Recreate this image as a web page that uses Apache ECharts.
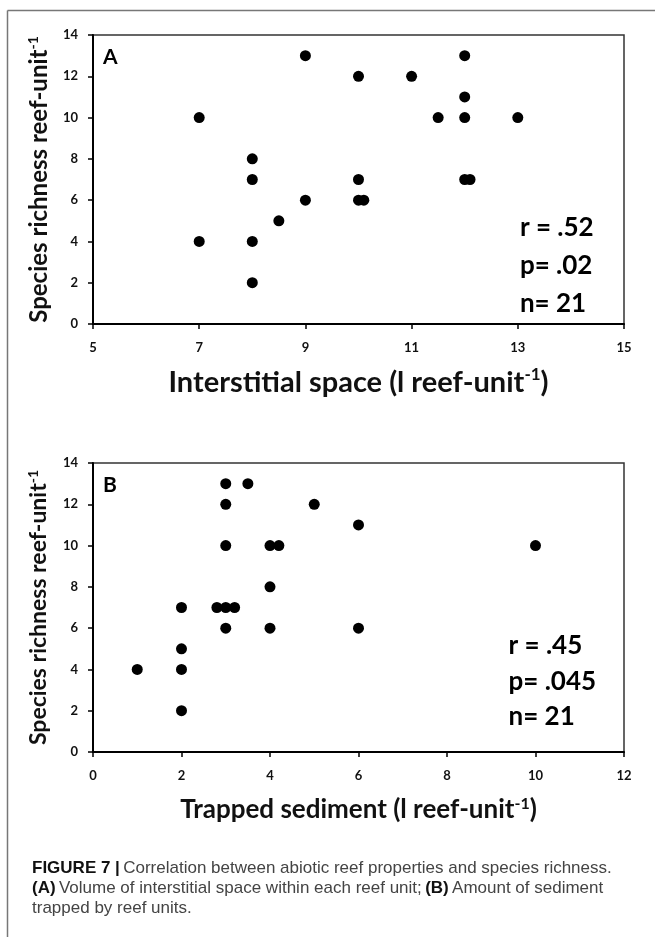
<!DOCTYPE html>
<html>
<head>
<meta charset="utf-8">
<script src="https://cdn.jsdelivr.net/npm/echarts@6/dist/echarts.min.js"></script>
<style>
html,body{margin:0;padding:0;background:#fff;}
#c{width:655px;height:937px;}
</style>
</head>
<body>
<div id="c"></div>
<script>
// Panel A: interstitial space vs species richness
const interstitialX = [7, 7, 8, 8, 8, 8, 8.5, 9, 9, 10, 10, 10, 10.1, 11, 11.5, 12, 12, 12, 12, 12.1, 13];
const richnessA     = [10, 4, 8, 7, 4, 2, 5, 6, 13, 12, 7, 6, 6, 12, 10, 13, 11, 10, 7, 7, 10];
// Panel B: trapped sediment vs species richness
const sedimentX  = [3, 3.5, 3, 5, 6, 3, 4, 4.2, 10, 4, 2, 2.8, 3, 3.2, 3, 4, 6, 2, 2, 1, 2];
const richnessB  = [13, 13, 12, 12, 11, 10, 10, 10, 10, 8, 7, 7, 7, 7, 6, 6, 6, 5, 4, 4, 2];

const xTicksA = [5, 7, 9, 11, 13, 15];
const xTicksB = [0, 2, 4, 6, 8, 10, 12];
const yTicks  = [0, 2, 4, 6, 8, 10, 12, 14];

const statsA = ['r = .52', 'p= .02', 'n= 21'];
const statsB = ['r = .45', 'p= .045', 'n= 21'];

const FONT = 'Lato, "Open Sans", sans-serif';

function xAxisCfg(idx, min, max, ticks, namePart, fs, gap) {
  return {
    type: 'value', gridIndex: idx, min: min, max: max,
    splitLine: {show: false},
    axisLine: {show: true, onZero: false, lineStyle: {color: '#000', width: 2}},
    axisTick: {show: true, length: 5, customValues: ticks, lineStyle: {color: '#000', width: 1.5}},
    axisLabel: {customValues: ticks, margin: 17, color: '#111', fontFamily: FONT, fontWeight: 'bold', fontSize: 13},
    name: '{t|' + namePart + '}{s|-1}{t|)}',
    nameLocation: 'middle', nameGap: gap,
    nameTextStyle: {
      rich: {
        t: {fontFamily: FONT, fontWeight: 'bold', fontSize: fs, color: '#111', lineHeight: fs + 6},
        s: {fontFamily: FONT, fontWeight: 'bold', fontSize: Math.round(fs * 0.6), color: '#111', lineHeight: fs + 6, padding: [0, 0, Math.round(fs * 0.5), 0]}
      }
    }
  };
}
function yAxisCfg(idx, fs, gap) {
  return {
    type: 'value', gridIndex: idx, min: 0, max: 14,
    splitLine: {show: false},
    axisLine: {show: true, onZero: false, lineStyle: {color: '#000', width: 2}},
    axisTick: {show: true, length: 5, customValues: yTicks, lineStyle: {color: '#000', width: 1.5}},
    axisLabel: {customValues: yTicks, margin: 15, color: '#111', fontFamily: FONT, fontWeight: 'bold', fontSize: 13},
    name: '{t|Species richness reef-unit}{s|-1}',
    nameLocation: 'middle', nameGap: gap, nameRotate: 90,
    nameTextStyle: {
      rich: {
        t: {fontFamily: FONT, fontWeight: 'bold', fontSize: fs, color: '#111', lineHeight: fs + 6},
        s: {fontFamily: FONT, fontWeight: 'bold', fontSize: Math.round(fs * 0.6), color: '#111', lineHeight: fs + 6, padding: [0, 0, Math.round(fs * 0.5), 0]}
      }
    }
  };
}

const chart = echarts.init(document.getElementById('c'), null, {renderer: 'canvas'});

const option = {
  backgroundColor: '#fff',
  animation: false,
  grid: [
    {left: 93, width: 531, top: 35, height: 289, show: true, borderColor: '#333', borderWidth: 1.5, backgroundColor: 'transparent'},
    {left: 93, width: 531, top: 463, height: 289, show: true, borderColor: '#333', borderWidth: 1.5, backgroundColor: 'transparent'}
  ],
  xAxis: [
    xAxisCfg(0, 5, 15, xTicksA, 'Interstitial space (l reef-unit', 29, 41),
    xAxisCfg(1, 0, 12, xTicksB, 'Trapped sediment (l reef-unit', 26, 42)
  ],
  yAxis: [yAxisCfg(0, 24, 31), yAxisCfg(1, 23, 32)],
  series: [
    {type: 'scatter', xAxisIndex: 0, yAxisIndex: 0, symbolSize: 11, itemStyle: {color: '#000', opacity: 1},
     data: interstitialX.map((x, i) => [x, richnessA[i]])},
    {type: 'scatter', xAxisIndex: 1, yAxisIndex: 1, symbolSize: 11, itemStyle: {color: '#000', opacity: 1},
     data: sedimentX.map((x, i) => [x, richnessB[i]])}
  ]
};
chart.setOption(option);

// Annotations placed relative to the grids
const graphics = [];
// figure frame
graphics.push({type: 'line', shape: {x1: 7.5, y1: 10.5, x2: 655, y2: 10.5}, style: {stroke: '#777', lineWidth: 1.5}, silent: true});
graphics.push({type: 'line', shape: {x1: 7.5, y1: 10.5, x2: 7.5, y2: 937}, style: {stroke: '#777', lineWidth: 1.5}, silent: true});

function addPanel(gi, letter, stats, statX, statYs) {
  const g = chart.getModel().getComponent('grid', gi).coordinateSystem.getRect();
  graphics.push({type: 'text', x: g.x + 10, y: g.y + 12,
    style: {text: letter, font: 'bold 21px ' + FONT, fill: '#000', textVerticalAlign: 'top'}});
  stats.forEach((s, i) => {
    const p = chart.convertToPixel({xAxisIndex: gi, yAxisIndex: gi}, [statX, statYs[i]]);
    graphics.push({type: 'text', x: p[0], y: p[1],
      style: {text: s, font: 'bold 26px ' + FONT, fill: '#000', textVerticalAlign: 'middle'}});
  });
}
addPanel(0, 'A', statsA, 13.04, [4.65, 2.84, 1.0]);
addPanel(1, 'B', statsB, 9.39, [5.15, 3.39, 1.71]);

// Caption
const CAPF = '"Liberation Sans", Arial, sans-serif';
graphics.push({type: 'text', x: 32, y: 858,
  style: {
    text: '{b|FIGURE 7 |} {r|Correlation between abiotic reef properties and species richness.}\n{b|(A)} {r|Volume of interstitial space within each reef unit;} {b|(B)} {r|Amount of sediment}\n{r|trapped by reef units.}',
    textVerticalAlign: 'top',
    rich: {
      b: {font: 'bold 17px ' + CAPF, fill: '#111', lineHeight: 20},
      r: {font: '17px ' + CAPF, fill: '#444', lineHeight: 20}
    }
  }});

chart.setOption({graphic: graphics});
</script>
</body>
</html>
